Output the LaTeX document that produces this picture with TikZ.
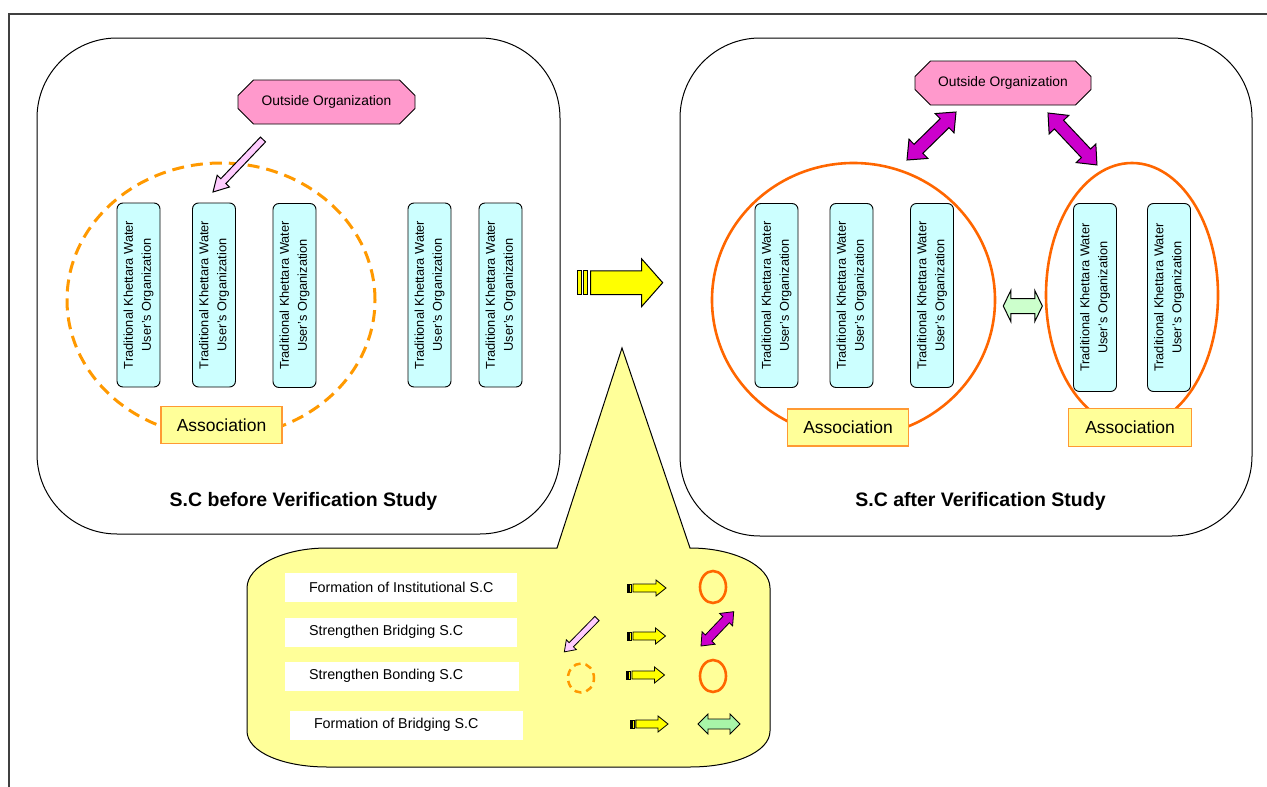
\documentclass[tikz,border=0pt]{standalone}
\usepackage{fontspec}
\setmainfont{Liberation Sans}
\usetikzlibrary{shapes.geometric,shapes.misc,calc}
\definecolor{framecol}{HTML}{404040}
\definecolor{orgpink}{HTML}{FF99CC}
\definecolor{lightpink}{HTML}{FFCCFF}
\definecolor{magentaA}{HTML}{CC00CC}
\definecolor{cyanA}{HTML}{CCFFFF}
\definecolor{assocF}{HTML}{FFFF99}
\definecolor{assocB}{HTML}{FF9933}
\definecolor{calloutF}{HTML}{FFFF99}
\definecolor{arrowY}{HTML}{FFFF00}
\definecolor{greenA}{HTML}{CCFFCC}
\definecolor{greenB}{HTML}{A8F5A8}
\definecolor{orangeD}{HTML}{FF9900}
\definecolor{orangeS}{HTML}{FF6600}
\tikzset{
  pics/sarrow/.style args={#1/#2/#3/#4}{code={
    \path[pic actions] (0,-#2) -- ({#1-#4},-#2) -- ({#1-#4},-#3) -- (#1,0) -- ({#1-#4},#3) -- ({#1-#4},#2) -- (0,#2) -- cycle;
  }},
  pics/darrow/.style args={#1/#2/#3/#4}{code={
    \path[pic actions] (#4,-#2) -- ({#1-#4},-#2) -- ({#1-#4},-#3) -- (#1,0) -- ({#1-#4},#3) -- ({#1-#4},#2) -- (#4,#2) -- (#4,#3) -- (0,0) -- (#4,-#3) -- cycle;
  }},
  pics/stripearrow/.style args={#1/#2/#3/#4}{code={
    \path[pic actions] (0,-#2) rectangle ({0.047*#1},#2);
    \path[pic actions] ({0.07*#1},-#2) rectangle ({0.124*#1},#2);
    \path[pic actions] ({0.155*#1},-#2) -- ({#1-#4},-#2) -- ({#1-#4},-#3) -- (#1,0) -- ({#1-#4},#3) -- ({#1-#4},#2) -- ({0.155*#1},#2) -- cycle;
  }},
  panel/.style={draw=black, line width=1pt, rounded corners=80pt, inner sep=0pt},
  kbox/.style={draw=black, line width=0.9pt, fill=cyanA, rounded corners=6pt, rotate=90,
    minimum width=184pt, minimum height=43pt, inner sep=0pt, align=center,
    font=\fontsize{12.8}{18}\selectfont},
  assoc/.style={draw=assocB, line width=1.2pt, fill=assocF, minimum width=121pt,
    minimum height=37pt, inner sep=0pt, font=\fontsize{17.5}{20}\selectfont},
  outorg/.style={chamfered rectangle, chamfered rectangle xsep=10pt, chamfered rectangle ysep=9pt,
    draw=black, line width=0.9pt, fill=orgpink, minimum width=177pt, minimum height=44pt,
    inner sep=0pt, font=\fontsize{13.8}{16}\selectfont},
  dashring/.style={ellipse, draw=orangeD, line width=3pt, dash pattern=on 12pt off 7pt, inner sep=0pt},
  solidring/.style={ellipse, draw=orangeS, line width=2.6pt, inner sep=0pt},
  title/.style={font=\bfseries\fontsize{19.5}{22}\selectfont, inner sep=0pt},
  legbox/.style={fill=white, minimum height=29pt, inner sep=0pt},
  legtext/.style={font=\fontsize{14.3}{16}\selectfont, inner sep=0pt, anchor=west},
  blk/.style={draw=black, line width=1pt},
  blks/.style={draw=black, line width=0.8pt},
}
\begin{document}
\begin{tikzpicture}[x=1pt,y=-1pt]
\useasboundingbox (0,0) rectangle (1267,787);
% frame
\draw[framecol, line width=1.3pt] (1267,14) -- (9,14) -- (9,787);
% panels
\node[panel, minimum width=523pt, minimum height=496pt] (before) at (298.5,286) {};
\node[panel, minimum width=572pt, minimum height=498pt] (after) at (966,287) {};
% rings
\node[dashring, minimum width=308pt, minimum height=274pt] (bond) at (221,300) {};
\node[solidring, minimum width=283pt, minimum height=274pt] (ring1) at (853.5,300) {};
\node[solidring, minimum width=172pt, minimum height=264pt] (ring2) at (1132,295) {};
% outside organizations
\node[outorg] (orgL) at (326.5,102) {Outside Organization};
\node[outorg, minimum width=176pt] (orgR) at (1003,83) {Outside Organization};
% user organizations, left
\node[kbox] (k1) at (138.5,295) {Traditional Khettara Water\\User's Organization};
\node[kbox] (k2) at (214,295) {Traditional Khettara Water\\User's Organization};
\node[kbox] (k3) at (294.5,295.5) {Traditional Khettara Water\\User's Organization};
\node[kbox] (k4) at (429.5,295) {Traditional Khettara Water\\User's Organization};
\node[kbox] (k5) at (500.5,295) {Traditional Khettara Water\\User's Organization};
% user organizations, right
\node[kbox] (k6) at (776.5,295.5) {Traditional Khettara Water\\User's Organization};
\node[kbox] (k7) at (851.5,295.5) {Traditional Khettara Water\\User's Organization};
\node[kbox] (k8) at (932,295.5) {Traditional Khettara Water\\User's Organization};
\node[kbox, minimum width=188pt] (k9) at (1095,297.5) {Traditional Khettara Water\\User's Organization};
\node[kbox, minimum width=188pt] (k10) at (1169,297.5) {Traditional Khettara Water\\User's Organization};
% associations
\node[assoc] (aL) at (221.5,425) {Association};
\node[assoc] (aR1) at (848,427.5) {Association};
\node[assoc, minimum width=123pt, minimum height=38pt] (aR2) at (1130,427.5) {Association};
% titles
\node[title] (t1) at (303.5,501) {S.C before Verification Study};
\node[title] (t2) at (980.5,501) {S.C after Verification Study};
% arrows in panels
\pic[blk, fill=lightpink, rotate=226.4] (pinkL) at (263,139.5) {sarrow=72.5/3.5/8.5/15};
\pic[blk, fill=magentaA, rotate=44.4] (magL) at (907,160) {darrow=68.6/6.3/13.5/16};
\pic[blk, fill=magentaA, rotate=-46.7] (magR) at (1048,113) {darrow=71.4/6.3/13.5/16};
\pic[blk, fill=greenA] (grn) at (1003.3,306) {darrow=39/7.5/15.5/7.5};
\pic[blk, fill=arrowY] (bigY) at (577.3,282.7) {stripearrow=85.4/11.8/23.8/21};
% callout
\draw[draw=black, line width=1pt, fill=calloutF]
  (247,588) -- (247,731) .. controls (247,752) and (283,767) .. (327,767)
  -- (690,767) .. controls (734,767) and (770,752) .. (770,731)
  -- (770,588) .. controls (770,566) and (734,548) .. (690,548)
  -- (622,348) -- (557,548) -- (327,548)
  .. controls (283,548) and (247,566) .. (247,588) -- cycle;
% legend labels
\node[legbox, minimum width=232pt] (lb1) at (401,587.5) {};
\node[legtext] (lt1) at ($(lb1.west)+(24,0)$) {Formation of Institutional S.C};
\node[legbox, minimum width=232pt] (lb2) at (401,632) {};
\node[legtext] (lt2) at ($(lb2.west)+(24,0)$) {Strengthen Bridging S.C};
\node[legbox, minimum width=234pt] (lb3) at (402,676) {};
\node[legtext] (lt3) at ($(lb3.west)+(24,0)$) {Strengthen Bonding S.C};
\node[legbox, minimum width=233pt] (lb4) at (406.5,725) {};
\node[legtext] (lt4) at ($(lb4.west)+(24,0)$) {Formation of Bridging S.C};
% legend symbols
\pic[blks, fill=arrowY] (ly1) at (627,588) {stripearrow=39/4/8/10};
\pic[blks, fill=arrowY] (ly2) at (627,636) {stripearrow=38.5/4/8/10};
\pic[blks, fill=arrowY] (ly3) at (626,675) {stripearrow=38.5/4/8/10};
\pic[blks, fill=arrowY] (ly4) at (630,724) {stripearrow=38/4/8/10};
\node[solidring, minimum width=26pt, minimum height=32pt] (lr1) at (713,587) {};
\node[solidring, minimum width=26pt, minimum height=32pt] (lr3) at (713,676) {};
\node[ellipse, draw=orangeD, line width=2.5pt, dash pattern=on 7pt off 5pt, dash phase=2pt, inner sep=0pt,
  minimum width=26pt, minimum height=29pt] (ld3) at (581,678) {};
\pic[blks, fill=lightpink, rotate=225.6] (lp2) at (597,618.5) {sarrow=46.7/3/7/10};
\pic[blks, fill=magentaA, rotate=46.4] (lm2) at (701,646) {darrow=47.4/4.5/9/11};
\pic[blks, fill=greenB] (lg4) at (698,724) {darrow=42/5/10/10};
\end{tikzpicture}
\end{document}
